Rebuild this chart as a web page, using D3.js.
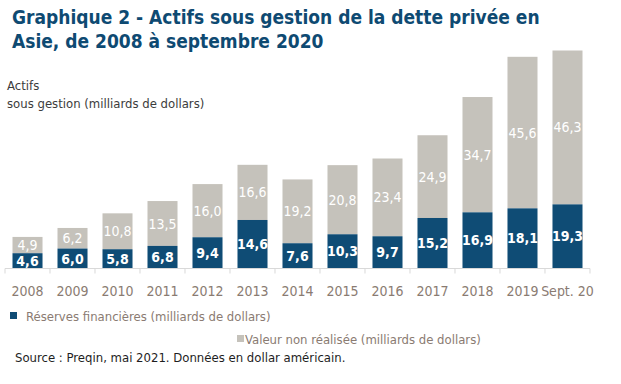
<!DOCTYPE html>
<html>
<head>
<meta charset="utf-8">
<script src="https://cdn.jsdelivr.net/npm/d3@7"></script>
<style>
  body { margin: 0; background: #fff; }
  svg { display: block; font-family: "DejaVu Sans Condensed", "DejaVu Sans", sans-serif; }
</style>
</head>
<body>
<div id="chart"></div>
<script>
const years = ['2008', '2009', '2010', '2011', '2012', '2013', '2014', '2015', '2016', '2017', '2018', '2019', 'Sept. 20']
const reserves = [4.6, 6.0, 5.8, 6.8, 9.4, 14.6, 7.6, 10.3, 9.7, 15.2, 16.9, 18.1, 19.3]
const unrealized = [4.9, 6.2, 10.8, 13.5, 16.0, 16.6, 19.2, 20.8, 23.4, 24.9, 34.7, 45.6, 46.3]
const seriesNames = ['Réserves financières (milliards de dollars)', 'Valeur non réalisée (milliards de dollars)']

const blue = '#0f4c75'
const grey = '#c5c2bb'
const fmt = v => v.toFixed(1).replace('.', ',')

const width = 621, height = 384
const svg = d3.select('#chart').append('svg')
  .attr('width', width)
  .attr('height', height)

// title
svg.append('text')
  .attr('x', 12).attr('y', 24)
  .attr('font-size', 19).attr('font-weight', 'bold').attr('fill', '#0e4a72')
  .text('Graphique 2 - Actifs sous gestion de la dette privée en')
svg.append('text')
  .attr('x', 12).attr('y', 48)
  .attr('font-size', 19).attr('font-weight', 'bold').attr('fill', '#0e4a72')
  .text('Asie, de 2008 à septembre 2020')

svg.append('text')
  .attr('x', 7).attr('y', 90)
  .attr('font-size', 13).attr('fill', '#3c3c3c')
  .text('Actifs')
svg.append('text')
  .attr('x', 7).attr('y', 108)
  .attr('font-size', 13).attr('fill', '#3c3c3c')
  .text('sous gestion (milliards de dollars)')

let x = d3.scaleBand()
  .domain(years)
  .range([5, 590])
  .paddingInner(0.333)
  .paddingOuter(0.1667)

let y = d3.scaleLinear()
  .domain([0, 65.6])
  .range([268.5, 50.5])

let stacked = years.map((yr, i) => ({ year: yr, a: reserves[i], b: unrealized[i] }))

let bars = svg.append('g')
  .selectAll('g')
  .data(stacked)
  .enter()
  .append('g')

bars.append('rect')
  .attr('x', d => x(d.year))
  .attr('width', x.bandwidth())
  .attr('y', d => y(d.a + d.b))
  .attr('height', d => y(d.a) - y(d.a + d.b))
  .attr('fill', grey)

bars.append('rect')
  .attr('x', d => x(d.year))
  .attr('width', x.bandwidth())
  .attr('y', d => y(d.a))
  .attr('height', d => y(0) - y(d.a))
  .attr('fill', blue)

bars.append('text')
  .attr('x', d => x(d.year) + x.bandwidth() / 2)
  .attr('y', d => (y(0) + y(d.a)) / 2)
  .attr('dy', '0.36em')
  .attr('text-anchor', 'middle')
  .attr('font-size', 14).attr('font-weight', 'bold').attr('fill', '#fff')
  .text(d => fmt(d.a))

bars.append('text')
  .attr('x', d => x(d.year) + x.bandwidth() / 2)
  .attr('y', d => (y(d.a) + y(d.a + d.b)) / 2)
  .attr('dy', '0.36em')
  .attr('text-anchor', 'middle')
  .attr('font-size', 14).attr('fill', '#fff')
  .text(d => fmt(d.b))

// x axis with boundary ticks
let axis = svg.append('g')
axis.append('line')
  .attr('x1', 5).attr('x2', 590)
  .attr('y1', y(0)).attr('y2', y(0))
  .attr('stroke', '#d9d9d9')
let step = x.step()
axis.selectAll('line.tick')
  .data(d3.range(years.length + 1))
  .enter()
  .append('line')
  .attr('class', 'tick')
  .attr('x1', i => 5 + i * step).attr('x2', i => 5 + i * step)
  .attr('y1', y(0)).attr('y2', y(0) + 5)
  .attr('stroke', '#d9d9d9')
axis.selectAll('text')
  .data(years)
  .enter()
  .append('text')
  .attr('x', d => x(d) + x.bandwidth() / 2)
  .attr('y', 296)
  .attr('text-anchor', 'middle')
  .attr('font-size', 14).attr('fill', '#8a7b72')
  .text(d => d)

// legend
let legend = svg.append('g')
  .selectAll('g')
  .data([[seriesNames[0], blue, 10, 316], [seriesNames[1], grey, 237, 339]])
  .enter()
  .append('g')
legend.append('rect')
  .attr('x', d => d[2]).attr('y', d => d[3] - 4)
  .attr('width', 7).attr('height', 7)
  .attr('fill', d => d[1])
legend.append('text')
  .attr('x', d => d[2] + (d[2] > 100 ? 8 : 16))
  .attr('y', d => d[3] + 5)
  .attr('font-size', 13).attr('fill', '#8a7b72')
  .text(d => d[0])

svg.append('text')
  .attr('x', 15).attr('y', 362)
  .attr('font-size', 13).attr('fill', '#1e1e1e')
  .text('Source : Preqin, mai 2021.  Données en dollar américain.')
</script>
</body>
</html>
